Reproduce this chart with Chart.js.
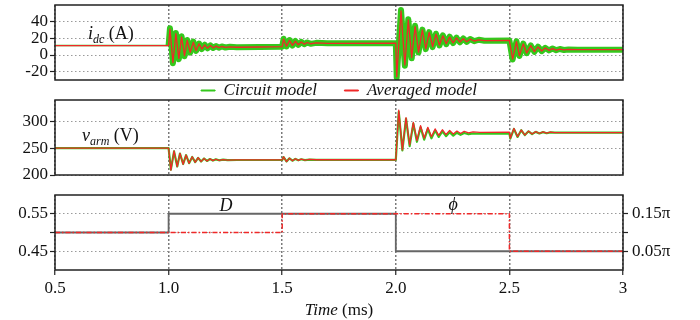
<!DOCTYPE html>
<html>
<head>
<meta charset="utf-8">
<script src="https://cdn.jsdelivr.net/npm/chart.js@4"></script>
<style>
  html, body { margin: 0; padding: 0; background: #fff; }
  #wrap { position: relative; width: 700px; height: 320px; overflow: hidden; }
  canvas { position: absolute; left: 0; }
</style>
</head>
<body>
<div id="wrap">
  <canvas id="idcChart" width="700" height="119" style="top:-10px"></canvas>
  <canvas id="varmChart" width="700" height="105" style="top:85px"></canvas>
  <canvas id="ctrlChart" width="700" height="140" style="top:180px"></canvas>
</div>
<script>
// time axis (ms)
var xTickValues = [0.5, 1.0, 1.5, 2.0, 2.5, 3.0];
var xTickLabels = ['0.5', '1.0', '1.5', '2.0', '2.5', '3'];

// i_dc (A)
var idcTickValues = [-20, 0, 20, 40];
var idcTickLabels = ['-20', '0', '20', '40'];
var idcTime = [
  0.5, 1.0, 1.006, 1.019, 1.032, 1.045, 1.057, 1.07, 1.082, 1.095,
  1.109, 1.121, 1.134, 1.146, 1.159, 1.171, 1.184, 1.196, 1.209, 1.221,
  1.234, 1.25, 1.27, 1.3, 1.4, 1.5, 1.506, 1.519, 1.532, 1.545,
  1.558, 1.571, 1.584, 1.597, 1.61, 1.625, 1.65, 1.7, 2.0, 2.004,
  2.023, 2.04, 2.055, 2.07, 2.085, 2.1, 2.117, 2.132, 2.147, 2.162,
  2.177, 2.192, 2.207, 2.222, 2.237, 2.252, 2.267, 2.282, 2.297, 2.312,
  2.327, 2.345, 2.365, 2.39, 2.5, 2.514, 2.531, 2.544, 2.561, 2.576,
  2.594, 2.61, 2.626, 2.642, 2.658, 2.674, 2.69, 2.706, 2.722, 2.74,
  2.76, 2.8, 3.0
];
var idcAveraged = [
  11.3, 11.3, 31, -9, 25.5, -4, 21.5, -0.8, 17.5, 3.3,
  15.5, 5.3, 13.4, 7.2, 12.2, 8.2, 11.3, 8.6, 10.6, 8.9,
  10.2, 9.1, 9.8, 9.3, 9.6, 10, 19, 10.5, 17.5, 11.5,
  16.5, 12.3, 15.6, 13, 15, 13.5, 14.5, 14, 14.2, -26,
  53, -12, 42, -3, 34, 3.5, 30, 7.5, 27, 10,
  25, 12, 23, 13.5, 21.5, 14.5, 20.5, 15.5, 19.5, 16,
  19, 16.8, 18.2, 17.2, 17.4, -5, 16, -0.8, 13.4, 2.4,
  11.3, 4, 9.7, 4.8, 8.5, 5.6, 7.7, 5.9, 7.1, 6.1,
  6.7, 6.4, 6.4
];
var idcCircuit = [
  11.3, 11.3, 32, -10, 26.5, -5, 22.5, -1.5, 18, 2.8,
  16, 5, 13.8, 7, 12.4, 8, 11.5, 8.5, 10.7, 8.8,
  10.3, 9, 9.9, 9.3, 9.6, 10, 19.5, 10.3, 18, 11.3,
  16.8, 12.2, 15.8, 12.9, 15.1, 13.4, 14.6, 14, 14.2, -27,
  54, -13, 43, -4, 35, 3, 30.5, 7, 27.5, 9.5,
  25.5, 11.5, 23.5, 13, 22, 14.2, 20.8, 15.2, 19.8, 15.8,
  19.2, 16.6, 18.3, 17.1, 17.3, -5.5, 16.5, -1.2, 13.7, 2.1,
  11.5, 3.8, 9.9, 4.6, 8.6, 5.5, 7.8, 5.8, 7.2, 6,
  6.7, 6.3, 6.3
];

// v_arm (V)
var varmTickValues = [200, 250, 300];
var varmTickLabels = ['200', '250', '300'];
var varmTime = [
  0.5, 1.0, 1.01, 1.024, 1.038, 1.05, 1.064, 1.077, 1.09, 1.104,
  1.117, 1.13, 1.143, 1.156, 1.169, 1.182, 1.195, 1.208, 1.222, 1.24,
  1.26, 1.3, 1.5, 1.506, 1.519, 1.532, 1.545, 1.558, 1.571, 1.584,
  1.6, 1.62, 1.65, 2.0, 2.013, 2.029, 2.045, 2.061, 2.077, 2.093,
  2.109, 2.125, 2.141, 2.157, 2.173, 2.189, 2.205, 2.221, 2.237, 2.253,
  2.269, 2.285, 2.301, 2.32, 2.34, 2.37, 2.5, 2.504, 2.52, 2.536,
  2.552, 2.568, 2.584, 2.6, 2.616, 2.632, 2.648, 2.664, 2.68, 2.7,
  3.0
];
var varmAveraged = [
  250, 250, 209, 245, 215.5, 240.5, 220, 237.3, 221.8, 234,
  223.7, 232.3, 225, 231, 226, 230, 226.8, 229.4, 227.3, 228.8,
  227.7, 228.2, 228.2, 234, 225, 231.5, 226.5, 230.3, 227.3, 229.6,
  227.8, 229, 228.5, 228.5, 321, 247, 307, 256, 298, 264,
  292, 268.5, 289, 271.5, 286, 274, 284.5, 275.5, 283, 276.5,
  282, 277.5, 281.5, 278.5, 280.5, 279.5, 280, 268.5, 287, 271.5,
  284, 274.5, 282, 276.5, 281, 277.5, 280.5, 278, 280, 279,
  279
];
var varmCircuit = [
  250, 250, 210, 244, 216, 240, 220.5, 237, 222, 233.7,
  224, 232, 225.2, 230.8, 226.2, 229.8, 227, 229.2, 227.4, 228.6,
  227.6, 228, 228, 233.5, 225.3, 231.2, 226.7, 230, 227.4, 229.4,
  227.8, 228.8, 228.3, 228.3, 318, 246, 305, 254, 296, 262,
  289, 266, 286, 268.5, 283, 271, 281.5, 272.5, 280, 273.5,
  279, 275, 278.5, 276, 277.5, 277, 277.3, 268, 286, 271,
  283.5, 274.5, 281.5, 276.5, 280.5, 277.5, 280, 278, 279.5, 279,
  279
];

// control inputs: D (left axis) and phi in units of pi (right axis)
var dTickValues = [0.45, 0.5, 0.55];
var dTickLabels = ['0.45', '', '0.55'];
var phiTickValues = [0.05, 0.1, 0.15];
var phiTickLabels = ['0.05\u03c0', '', '0.15\u03c0'];
var dTime = [0.5, 1.0, 1.0, 2.0, 2.0, 3.0];
var dValue = [0.5, 0.5, 0.55, 0.55, 0.45, 0.45];
var phiTime = [0.5, 1.5, 1.5, 2.5, 2.5, 3.0];
var phiValue = [0.1, 0.1, 0.15, 0.15, 0.05, 0.05];

var serif = "'Liberation Serif', 'Times New Roman', serif";
var green = '#34c81c';
var red = '#f02828';

Chart.defaults.font.family = serif;
Chart.defaults.font.size = 17;
Chart.defaults.color = '#111';
Chart.defaults.animation = false;

function pts(xs, ys) {
  return xs.map(function (x, i) { return {x: x, y: ys[i]}; });
}

function fixedTicks(values) {
  return function (scale) {
    scale.ticks = values.map(function (v) { return {value: v}; });
  };
}

// frame around the plot area plus in-plot labels (subscripts need mixed fonts)
var panelDecor = {
  id: 'panelDecor',
  afterDraw: function (chart, args, opts) {
    var ctx = chart.ctx, a = chart.chartArea, scales = chart.scales;
    ctx.save();
    ctx.strokeStyle = '#222';
    ctx.lineWidth = 1.5;
    ctx.strokeRect(a.left, a.top, a.right - a.left, a.bottom - a.top);
    ctx.fillStyle = '#111';
    ctx.textBaseline = 'alphabetic';
    (opts.notes || []).forEach(function (note) {
      var fonts = note.parts.map(function (p) { return p[1] + ' ' + p[2] + 'px ' + serif; });
      var width = 0;
      note.parts.forEach(function (p, i) { ctx.font = fonts[i]; width += ctx.measureText(p[0]).width; });
      var x = scales.x.getPixelForValue(note.x);
      if (note.center) x -= width / 2;
      var y = note.below != null ? a.bottom + note.below : scales[note.axis || 'y'].getPixelForValue(note.y);
      note.parts.forEach(function (p, i) {
        ctx.font = fonts[i];
        ctx.fillText(p[0], x, y + (p[3] || 0));
        x += ctx.measureText(p[0]).width;
      });
    });
    ctx.restore();
  }
};

function xAxis(showLabels) {
  return {
    type: 'linear', min: 0.5, max: 3,
    afterBuildTicks: fixedTicks(xTickValues),
    afterFit: function (s) { s.height = showLabels ? 30 : 0; },
    grid: { color: '#7a7a7a', lineWidth: 1.5, drawTicks: showLabels, tickLength: 5,
            tickColor: '#222', tickWidth: 1.2 },
    border: { display: false, dash: [2, 2] },
    ticks: { display: showLabels, padding: 3, maxRotation: 0, autoSkip: false,
             callback: function (v, i) { return xTickLabels[i]; } }
  };
}

function yAxis(min, max, values, labels) {
  return {
    min: min, max: max,
    afterBuildTicks: fixedTicks(values),
    afterFit: function (s) { s.width = 55; },
    grid: { color: '#9a9a9a', lineWidth: 1, tickLength: 5, tickColor: '#222', tickWidth: 1.2 },
    border: { display: false, dash: [1.5, 2.5] },
    ticks: { padding: 2, autoSkip: false, callback: function (v, i) { return labels[i]; } }
  };
}

var common = {
  responsive: false,
  animation: false,
  elements: { point: { radius: 0 }, line: { tension: 0, borderJoinStyle: 'round' } }
};

// top panel: i_dc
new Chart(document.getElementById('idcChart'), {
  type: 'line',
  data: {
    datasets: [{
      label: 'Circuit model',
      data: pts(idcTime, idcCircuit),
      borderColor: green, backgroundColor: green, borderWidth: 1.5, order: 2,
      segment: { borderWidth: function (c) { return c.p0.parsed.x >= 1 ? 6 : 1.5; } }
    }, {
      label: 'Averaged model',
      data: pts(idcTime, idcAveraged),
      borderColor: red, backgroundColor: red, borderWidth: 1.3, order: 1
    }]
  },
  options: Object.assign({}, common, {
    layout: { padding: { top: 15, right: 77, left: 0, bottom: 0 } },
    scales: { x: xAxis(false), y: yAxis(-30, 60, idcTickValues, idcTickLabels) },
    plugins: {
      tooltip: { enabled: false },
      legend: {
        position: 'bottom', fullSize: false,
        labels: {
          boxWidth: 14, boxHeight: 1, padding: 2,
          font: { style: 'italic', size: 17 },
          sort: function (a, b) { return a.datasetIndex - b.datasetIndex; },
          generateLabels: function (chart) {
            var items = Chart.defaults.plugins.legend.labels.generateLabels(chart);
            items.sort(function (a, b) { return a.datasetIndex - b.datasetIndex; });
            items[0].text += '\u2003\u2002';
            items.forEach(function (it) { it.lineWidth = 1; });
            return items;
          }
        }
      },
      panelDecor: { notes: [
        { x: 0.645, y: 19, parts: [['i', 'italic', 18], ['dc', 'italic', 12, 4], [' (A)', 'normal', 18]] }
      ] }
    }
  }),
  plugins: [panelDecor]
});

// middle panel: v_arm
new Chart(document.getElementById('varmChart'), {
  type: 'line',
  data: {
    datasets: [{
      label: 'Circuit model',
      data: pts(varmTime, varmCircuit),
      borderColor: green, borderWidth: 2.2, order: 2
    }, {
      label: 'Averaged model',
      data: pts(varmTime, varmAveraged),
      borderColor: red, borderWidth: 1.3, order: 1
    }]
  },
  options: Object.assign({}, common, {
    layout: { padding: { top: 15, right: 77, left: 0, bottom: 15 } },
    scales: { x: xAxis(false), y: yAxis(200, 340, varmTickValues, varmTickLabels) },
    plugins: {
      tooltip: { enabled: false },
      legend: { display: false },
      panelDecor: { notes: [
        { x: 0.619, y: 263, parts: [['v', 'italic', 18], ['arm', 'italic', 12, 4], [' (V)', 'normal', 18]] }
      ] }
    }
  }),
  plugins: [panelDecor]
});

// bottom panel: D and phi
new Chart(document.getElementById('ctrlChart'), {
  type: 'line',
  data: {
    datasets: [{
      label: 'D',
      data: pts(dTime, dValue),
      borderColor: '#666', borderWidth: 1.8, yAxisID: 'y', order: 2
    }, {
      label: '\u03d5',
      data: pts(phiTime, phiValue),
      borderColor: red, borderWidth: 1.5, borderDash: [5, 2, 1.5, 2], yAxisID: 'y2', order: 1
    }]
  },
  options: Object.assign({}, common, {
    layout: { padding: { top: 15, right: 0, left: 0, bottom: 20 } },
    scales: {
      x: xAxis(true),
      y: yAxis(0.4, 0.6, dTickValues, dTickLabels),
      y2: {
        position: 'right', min: 0, max: 0.2,
        afterBuildTicks: fixedTicks(phiTickValues),
        afterFit: function (s) { s.width = 77; },
        grid: { drawOnChartArea: false, tickLength: 5, tickColor: '#222', tickWidth: 1.2 },
        border: { display: false },
        ticks: { padding: 4, autoSkip: false, callback: function (v, i) { return phiTickLabels[i]; } }
      }
    },
    plugins: {
      tooltip: { enabled: false },
      legend: { display: false },
      panelDecor: { notes: [
        { x: 1.253, y: 0.557, center: true, parts: [['D', 'italic', 18]] },
        { x: 2.252, y: 0.56, center: true, parts: [['\u03d5', 'italic', 18]] },
        { x: 1.75, below: 45, center: true, parts: [['Time', 'italic', 17], [' (ms)', 'normal', 17]] }
      ] }
    }
  }),
  plugins: [panelDecor]
});
</script>
</body>
</html>
